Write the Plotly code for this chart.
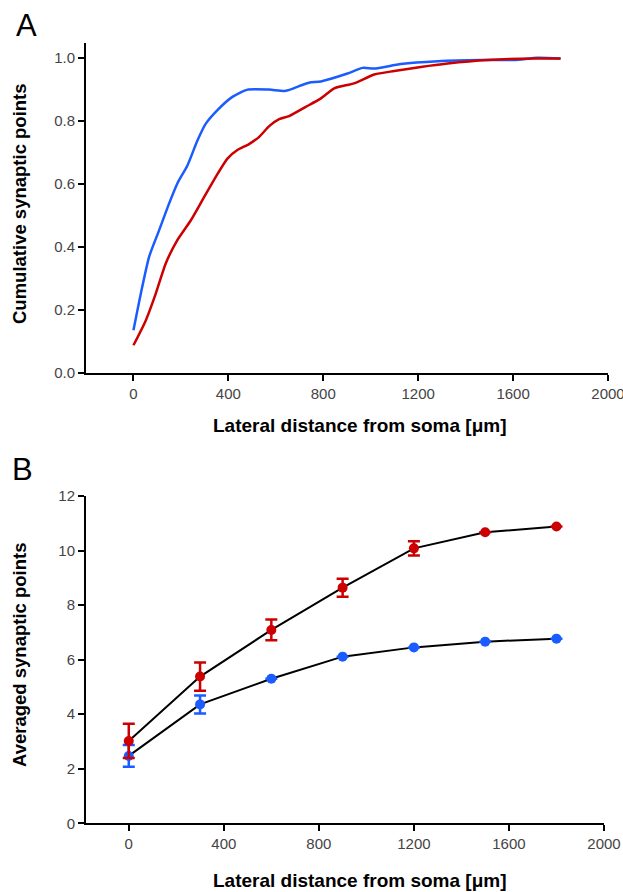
import plotly.graph_objects as go

# Panel A: cumulative synaptic points
a_blue_x = [0, 31, 66, 108, 150, 185, 228, 270, 305, 354, 417, 481, 572, 642, 698, 740, 790, 902, 966, 1015, 1127, 1282, 1464, 1605, 1703, 1800]
a_blue_y = [0.136, 0.252, 0.369, 0.453, 0.538, 0.602, 0.660, 0.739, 0.792, 0.835, 0.877, 0.900, 0.900, 0.896, 0.911, 0.922, 0.926, 0.951, 0.969, 0.967, 0.981, 0.990, 0.994, 0.994, 1.001, 0.999]
a_red_x = [0, 52, 94, 136, 185, 242, 298, 347, 396, 438, 487, 530, 572, 614, 656, 726, 790, 846, 930, 1015, 1099, 1211, 1324, 1491, 1689, 1800]
a_red_y = [0.088, 0.167, 0.252, 0.348, 0.422, 0.485, 0.559, 0.623, 0.681, 0.708, 0.727, 0.750, 0.784, 0.806, 0.816, 0.845, 0.872, 0.904, 0.920, 0.948, 0.959, 0.972, 0.983, 0.994, 0.999, 0.999]

# Panel B: averaged synaptic points
b_x = [0, 300, 600, 900, 1200, 1500, 1800]
b_red = [3.02, 5.38, 7.09, 8.64, 10.08, 10.67, 10.88]
b_red_err = [0.63, 0.52, 0.38, 0.33, 0.26, 0, 0]
b_blue = [2.47, 4.36, 5.30, 6.11, 6.45, 6.66, 6.77]
b_blue_err = [0.40, 0.33, 0, 0, 0, 0, 0]

x_ticks = [0, 400, 800, 1200, 1600, 2000]
a_y_ticks = [0.0, 0.2, 0.4, 0.6, 0.8, 1.0]
b_y_ticks = [0, 2, 4, 6, 8, 10, 12]

RED = "#CC0000"
BLUE = "#1A5CFF"
FONT = "Liberation Sans, Arial, sans-serif"

fig = go.Figure()

fig.add_trace(go.Scatter(x=a_blue_x, y=a_blue_y, mode="lines", line=dict(color=BLUE, width=2.5, shape="spline", smoothing=0.6), xaxis="x", yaxis="y", showlegend=False))
fig.add_trace(go.Scatter(x=a_red_x, y=a_red_y, mode="lines", line=dict(color=RED, width=2.5, shape="spline", smoothing=0.6), xaxis="x", yaxis="y", showlegend=False))

for vals in [b_blue, b_red]:
    fig.add_trace(go.Scatter(x=b_x, y=vals, mode="lines", line=dict(color="black", width=2), xaxis="x2", yaxis="y2", showlegend=False))
for vals, errs, col in [(b_blue, b_blue_err, BLUE), (b_red, b_red_err, RED)]:
    fig.add_trace(go.Scatter(x=b_x, y=vals, mode="markers", marker=dict(color=col, size=10),
                             error_y=dict(type="data", array=errs, visible=True, color=col, thickness=2.5, width=6),
                             xaxis="x2", yaxis="y2", showlegend=False))

axis_common = dict(showline=True, linecolor="black", linewidth=2, ticks="outside", ticklen=6, tickwidth=2,
                   tickcolor="black", showgrid=False, zeroline=False, automargin=False, ticklabeloverflow="allow",
                   tickfont=dict(family=FONT, size=15, color="#444444"))

fig.update_layout(
    width=623, height=892, autosize=False, margin=dict(l=0, r=0, t=0, b=0, pad=0),
    paper_bgcolor="white", plot_bgcolor="white",
    xaxis=dict(domain=[86/623, 608/623], range=[-200, 2000], tickvals=x_ticks, anchor="y", **axis_common),
    yaxis=dict(domain=[1-373/892, 1-43/892], range=[0, 1.048], tickvals=a_y_ticks, tickformat=".1f", anchor="x", **axis_common),
    xaxis2=dict(domain=[86/623, 604/623], range=[-180, 2000], tickvals=x_ticks, anchor="y2", **axis_common),
    yaxis2=dict(domain=[1-823.3/892, 1-496/892], range=[0, 12], tickvals=b_y_ticks, anchor="x2", **axis_common),
)

xt_font = dict(family=FONT, size=19, color="black")
yt_font = dict(family=FONT, size=18.5, color="black")
ann = [
    dict(text="<b>Lateral distance from soma [μm]</b>", x=360/623, y=1-425/892, font=xt_font),
    dict(text="<b>Lateral distance from soma [μm]</b>", x=360/623, y=1-880/892, font=xt_font),
    dict(text="<b>Cumulative synaptic points</b>", x=19/623, y=1-204/892, textangle=-90, font=yt_font),
    dict(text="<b>Averaged synaptic points</b>", x=19/623, y=1-655/892, textangle=-90, font=yt_font),
]
for a in ann:
    fig.add_annotation(xref="paper", yref="paper", xanchor="center", yanchor="middle", showarrow=False, **a)

fig.add_annotation(text="A", xref="paper", yref="paper", x=26/623, y=1-25/892, xanchor="center", yanchor="middle",
                   showarrow=False, font=dict(family=FONT, size=31, color="black"))
fig.add_annotation(text="B", xref="paper", yref="paper", x=22/623, y=1-470/892, xanchor="center", yanchor="middle",
                   showarrow=False, font=dict(family=FONT, size=31, color="black"))

fig.write_html("out.html", post_script="document.body.style.margin='0';document.body.style.overflow='hidden';")
